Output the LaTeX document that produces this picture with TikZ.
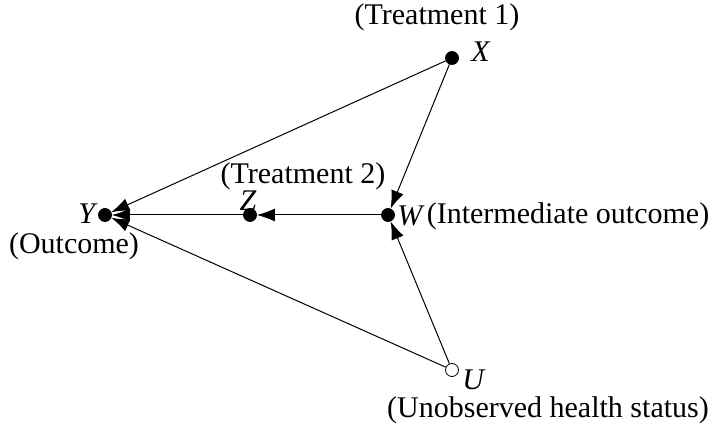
\documentclass[tikz,border=0pt]{standalone}
\usepackage{fontspec}
\setmainfont{Liberation Serif}
\usetikzlibrary{arrows.meta}

\begin{document}
\begin{tikzpicture}[
  x=0.5pt, y=-0.5pt,
  dot/.style={circle, draw, fill=black, minimum size=6.5pt, inner sep=0pt},
  hollow/.style={circle, draw, fill=white, minimum size=6.5pt, inner sep=0pt},
  lbl/.style={font=\fontsize{15}{17}\selectfont, inner sep=0pt},
  edge/.style={-{Latex[length=9pt, width=6.5pt]}, line width=0.5pt}
]
  \useasboundingbox (0,0) rectangle (716,426);

  % Variables
  \node[dot]    (x) at (452,58)  {};
  \node[dot]    (w) at (388,215) {};
  \node[dot]    (z) at (250,215) {};
  \node[dot]    (y) at (105,215) {};
  \node[hollow] (u) at (452,370) {};

  % Letters
  \node[lbl] (xl) at (481,52)  {\textit{X}};
  \node[lbl] (wl) at (411,216) {\textit{W}};
  \node[lbl] (zl) at (248,201) {\textit{Z}};
  \node[lbl] (yl) at (88,214)  {\textit{Y}};
  \node[lbl] (ul) at (474,380) {\textit{U}};

  % Descriptions
  \node[lbl] (xd) at (437,17)  {(Treatment 1)};
  \node[lbl] (zd) at (303,176) {(Treatment 2)};
  \node[lbl] (wd) at (568,216) {(Intermediate outcome)};
  \node[lbl] (yd) at (74,246)  {(Outcome)};
  \node[lbl] (ud) at (548,410) {(Unobserved health status)};

  % Causal edges
  \draw[edge] (x) -- (y);
  \draw[edge] (x) -- (w);
  \draw[edge] (w) -- (z);
  \draw[edge] (z) -- (y);
  \draw[edge] (u) -- (w);
  \draw[edge] (u) -- (y);
\end{tikzpicture}
\end{document}
